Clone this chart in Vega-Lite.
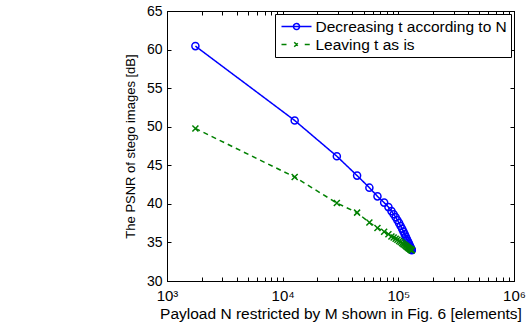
{
  "$schema": "https://vega.github.io/schema/vega-lite/v6.json",
  "width": 347,
  "height": 270,
  "autosize": {"type": "none"},
  "padding": {"left": 167, "top": 11, "right": 13, "bottom": 46},
  "config": {
    "font": "Liberation Sans",
    "view": {"stroke": "black", "strokeWidth": 1},
    "axis": {
      "grid": false,
      "domainColor": "black",
      "domainWidth": 1,
      "tickColor": "black",
      "tickWidth": 1,
      "tickSize": -4,
      "labelFontSize": 14,
      "labelColor": "black",
      "titleFontSize": 14,
      "titleColor": "black",
      "titleFontWeight": "normal",
      "labelOverlap": false,
      "labelFlush": false
    }
  },
  "datasets": {
    "psnr": [
      {"x": 1760, "y": 60.45, "s": "Decreasing t according to N"},
      {"x": 12700, "y": 50.81, "s": "Decreasing t according to N"},
      {"x": 29400, "y": 46.17, "s": "Decreasing t according to N"},
      {"x": 44000, "y": 43.66, "s": "Decreasing t according to N"},
      {"x": 56200, "y": 42.10, "s": "Decreasing t according to N"},
      {"x": 66000, "y": 40.97, "s": "Decreasing t according to N"},
      {"x": 75400, "y": 40.16, "s": "Decreasing t according to N"},
      {"x": 82100, "y": 39.58, "s": "Decreasing t according to N"},
      {"x": 87200, "y": 39.06, "s": "Decreasing t according to N"},
      {"x": 91100, "y": 38.66, "s": "Decreasing t according to N"},
      {"x": 94800, "y": 38.27, "s": "Decreasing t according to N"},
      {"x": 98200, "y": 37.88, "s": "Decreasing t according to N"},
      {"x": 101600, "y": 37.50, "s": "Decreasing t according to N"},
      {"x": 104700, "y": 37.13, "s": "Decreasing t according to N"},
      {"x": 107900, "y": 36.76, "s": "Decreasing t according to N"},
      {"x": 110700, "y": 36.41, "s": "Decreasing t according to N"},
      {"x": 113400, "y": 36.08, "s": "Decreasing t according to N"},
      {"x": 115900, "y": 35.77, "s": "Decreasing t according to N"},
      {"x": 118200, "y": 35.48, "s": "Decreasing t according to N"},
      {"x": 120300, "y": 35.22, "s": "Decreasing t according to N"},
      {"x": 122300, "y": 34.99, "s": "Decreasing t according to N"},
      {"x": 124000, "y": 34.78, "s": "Decreasing t according to N"},
      {"x": 125700, "y": 34.57, "s": "Decreasing t according to N"},
      {"x": 127300, "y": 34.39, "s": "Decreasing t according to N"},
      {"x": 128500, "y": 34.24, "s": "Decreasing t according to N"},
      {"x": 129500, "y": 34.13, "s": "Decreasing t according to N"},
      {"x": 130300, "y": 34.05, "s": "Decreasing t according to N"},
      {"x": 130800, "y": 34.00, "s": "Decreasing t according to N"},
      {"x": 1760, "y": 49.77, "s": "Leaving t as is"},
      {"x": 12700, "y": 43.48, "s": "Leaving t as is"},
      {"x": 29400, "y": 40.10, "s": "Leaving t as is"},
      {"x": 44000, "y": 38.86, "s": "Leaving t as is"},
      {"x": 56200, "y": 37.58, "s": "Leaving t as is"},
      {"x": 66000, "y": 36.88, "s": "Leaving t as is"},
      {"x": 75400, "y": 36.39, "s": "Leaving t as is"},
      {"x": 82100, "y": 36.06, "s": "Leaving t as is"},
      {"x": 87200, "y": 35.78, "s": "Leaving t as is"},
      {"x": 91100, "y": 35.64, "s": "Leaving t as is"},
      {"x": 94800, "y": 35.48, "s": "Leaving t as is"},
      {"x": 98200, "y": 35.34, "s": "Leaving t as is"},
      {"x": 101600, "y": 35.19, "s": "Leaving t as is"},
      {"x": 104700, "y": 35.05, "s": "Leaving t as is"},
      {"x": 107900, "y": 34.91, "s": "Leaving t as is"},
      {"x": 110700, "y": 34.78, "s": "Leaving t as is"},
      {"x": 113400, "y": 34.66, "s": "Leaving t as is"},
      {"x": 115900, "y": 34.55, "s": "Leaving t as is"},
      {"x": 118200, "y": 34.45, "s": "Leaving t as is"},
      {"x": 120300, "y": 34.36, "s": "Leaving t as is"},
      {"x": 122300, "y": 34.28, "s": "Leaving t as is"},
      {"x": 124000, "y": 34.21, "s": "Leaving t as is"},
      {"x": 125700, "y": 34.14, "s": "Leaving t as is"},
      {"x": 127300, "y": 34.09, "s": "Leaving t as is"},
      {"x": 128500, "y": 34.05, "s": "Leaving t as is"},
      {"x": 129500, "y": 34.02, "s": "Leaving t as is"},
      {"x": 130300, "y": 34.00, "s": "Leaving t as is"},
      {"x": 130800, "y": 33.99, "s": "Leaving t as is"}
    ]
  },
  "data": {"name": "psnr"},
  "resolve": {"axis": {"x": "independent", "y": "independent"}},
  "layer": [
    {
      "mark": {"type": "line", "strokeWidth": 1.5, "clip": true},
      "encoding": {
        "x": {
          "field": "x", "type": "quantitative",
          "scale": {"type": "log", "domain": [1000, 1000000], "nice": false},
          "axis": {
            "orient": "bottom",
            "values": [1000,2000,3000,4000,5000,6000,7000,8000,9000,10000,20000,30000,40000,50000,60000,70000,80000,90000,100000,200000,300000,400000,500000,600000,700000,800000,900000,1000000],
            "labelExpr": "datum.value == 1000 ? '10³' : datum.value == 10000 ? '10⁴' : datum.value == 100000 ? '10⁵' : datum.value == 1000000 ? '10⁶' : ''",
            "labelFontSize": 15,
            "labelPadding": 11,
            "title": "Payload N restricted by M shown in Fig. 6 [elements]",
            "titleFontSize": 15.5,
            "titlePadding": 3
          }
        },
        "y": {
          "field": "y", "type": "quantitative",
          "scale": {"domain": [30, 65], "nice": false, "zero": false},
          "axis": {
            "orient": "left",
            "values": [30,35,40,45,50,55,60,65],
            "labelPadding": 9,
            "title": "The PSNR of stego images [dB]",
            "titleFontSize": 13,
            "titlePadding": 9
          }
        },
        "color": {
          "field": "s", "type": "nominal",
          "scale": {"domain": ["Decreasing t according to N", "Leaving t as is"], "range": ["#0000ff", "#008000"]},
          "legend": {
            "title": null,
            "orient": "top-right",
            "offset": 3,
            "strokeColor": "black",
            "fillColor": "white",
            "padding": 4,
            "labelFontSize": 15.5,
            "labelColor": "black",
            "labelLimit": 300,
            "labelOffset": 10.5,
            "symbolSize": 225,
            "symbolOffset": 9,
            "symbolStrokeWidth": 1.5,
            "symbolType": "M-2,0L2,0",
            "rowPadding": 1,
            "encode": {
              "symbols": {
                "update": {
                  "shape": {"signal": "datum.value === 'Decreasing t according to N' ? 'M-2,0L2,0M0.4,0A0.4,0.4,0,1,1,-0.4,0A0.4,0.4,0,1,1,0.4,0' : 'M-2,0L-1.1,0M1.1,0L2,0M-0.3,-0.3L0.3,0.3M-0.3,0.3L0.3,-0.3'"},
                  "fill": {"value": "transparent"},
                  "strokeDash": {"value": [1, 0]}
                }
              }
            }
          }
        },
        "strokeDash": {
          "field": "s", "type": "nominal",
          "scale": {"domain": ["Decreasing t according to N", "Leaving t as is"], "range": [[1, 0], [5, 4]]},
          "legend": null
        }
      }
    },
    {
      "transform": [{"filter": "datum.s === 'Decreasing t according to N'"}],
      "mark": {"type": "point", "shape": "circle", "filled": false, "size": 50, "strokeWidth": 1.5, "color": "#0000ff", "opacity": 1},
      "encoding": {
        "x": {
          "field": "x", "type": "quantitative",
          "axis": {
            "orient": "top",
            "values": [1000,2000,3000,4000,5000,6000,7000,8000,9000,10000,20000,30000,40000,50000,60000,70000,80000,90000,100000,200000,300000,400000,500000,600000,700000,800000,900000,1000000],
            "labels": false,
            "title": null
          }
        },
        "y": {
          "field": "y", "type": "quantitative",
          "axis": {"orient": "right", "values": [30,35,40,45,50,55,60,65], "labels": false, "title": null}
        }
      }
    },
    {
      "transform": [{"filter": "datum.s === 'Leaving t as is'"}],
      "mark": {"type": "point", "shape": "M-1,-1L1,1M-1,1L1,-1", "filled": false, "size": 36, "strokeWidth": 1.5, "color": "#008000", "opacity": 1},
      "encoding": {
        "x": {"field": "x", "type": "quantitative", "axis": null},
        "y": {"field": "y", "type": "quantitative", "axis": null}
      }
    }
  ]
}
